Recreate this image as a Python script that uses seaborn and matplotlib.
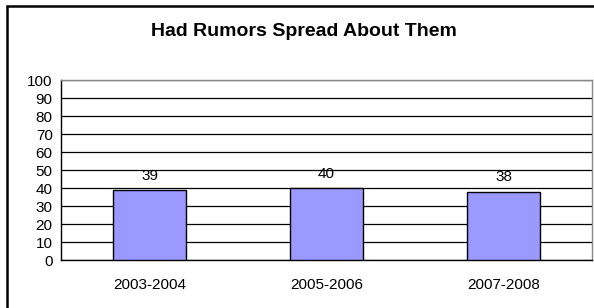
import matplotlib
matplotlib.use("Agg")
import matplotlib.pyplot as plt
import seaborn as sns
import pandas as pd
from matplotlib.patches import Rectangle

categories = ["2003-2004", "2005-2006", "2007-2008"]
values = [39, 40, 38]
title = "Had Rumors Spread About Them"

sns.set_style("white")
plt.rcParams['font.family'] = ['Liberation Sans', 'DejaVu Sans']
plt.rcParams['text.color'] = 'black'
plt.rcParams['xtick.color'] = 'black'
plt.rcParams['ytick.color'] = 'black'
plt.rcParams['axes.labelcolor'] = 'black'

df = pd.DataFrame({"period": categories, "value": values})

W, H = 594, 308
fig = plt.figure(figsize=(W / 100, H / 100), dpi=100)
left, right, top, bottom = 61, 592, 80, 260
ax = fig.add_axes([left / W, 1 - bottom / H, (right - left) / W, (bottom - top) / H])

sns.barplot(data=df, x="period", y="value", ax=ax, color="#9999FF",
            saturation=1, width=0.41, edgecolor="black", linewidth=1, zorder=3)

ax.set_ylim(0, 100)
ax.set_xlim(-0.5, 2.5)
ax.set_yticks(range(0, 101, 10))
ax.yaxis.grid(True, color="black", linewidth=0.9, zorder=0)
ax.set_axisbelow(True)
ax.set_xlabel("")
ax.set_ylabel("")

ax.set_xticks([0, 1, 2])
ax.set_xticklabels(categories, fontsize=11)
ax.tick_params(axis="x", length=0, pad=13)
ax.set_xticks([-0.5, 0.5, 1.5, 2.5], minor=True)
ax.tick_params(axis="x", which="minor", length=5, width=1, color="black", direction="out")
ax.tick_params(axis="y", length=5, width=1, color="black", direction="out", labelsize=11, pad=1)

for s in ["left", "bottom"]:
    ax.spines[s].set_color("black")
    ax.spines[s].set_linewidth(1)
for s in ["top", "right"]:
    ax.spines[s].set_visible(True)
    ax.spines[s].set_color("#888888")
    ax.spines[s].set_linewidth(1)

for i, v in enumerate(values):
    ax.text(i, v + 4, str(v), ha="center", va="bottom", fontsize=11, color="black")

fig.text(304 / W, 1 - 32 / H, title, ha="center", va="center", fontsize=14,
         fontweight="bold", color="black")

fig.patches.append(Rectangle((7 / W, -0.1), 1.2, 1 - 6 / H + 0.1, transform=fig.transFigure,
                             fill=False, edgecolor="black", linewidth=1.8))

fig.savefig("out.png", dpi=100)
